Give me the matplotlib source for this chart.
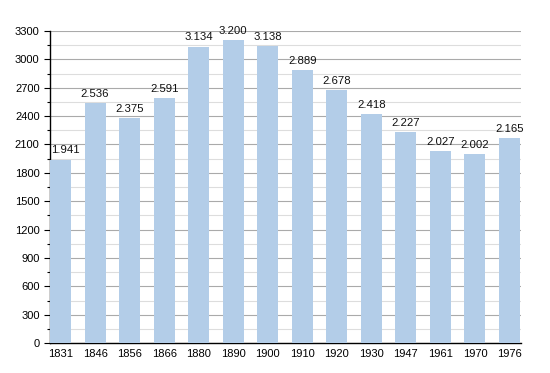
import matplotlib
matplotlib.use("Agg")
import matplotlib.pyplot as plt
from matplotlib.ticker import MultipleLocator

years = ["1831", "1846", "1856", "1866", "1880", "1890", "1900", "1910", "1920", "1930", "1947", "1961", "1970", "1976"]
population = [1941, 2536, 2375, 2591, 3134, 3200, 3138, 2889, 2678, 2418, 2227, 2027, 2002, 2165]
labels = ["1.941", "2.536", "2.375", "2.591", "3.134", "3.200", "3.138", "2.889", "2.678", "2.418", "2.227", "2.027", "2.002", "2.165"]

plt.rcParams['font.family'] = ['Liberation Sans', 'DejaVu Sans']
fig = plt.figure(figsize=(5.5, 3.73), dpi=100)
ax = fig.add_axes([0.091, 0.080, 0.856, 0.837])

x = list(range(len(years)))
ax.bar(x, population, width=0.61, color="#b3cde8", zorder=3)
xmin = -0.305
for xi, v, lab in zip(x, population, labels):
    if xi == 0:
        ax.text(xmin + 0.03, v + 45, lab, ha="left", va="bottom", fontsize=8.2, color="#111111", zorder=4)
    else:
        ax.text(xi, v + 45, lab, ha="center", va="bottom", fontsize=8.2, color="#111111", zorder=4)

ax.set_xlim(xmin, len(years) - 1 + 0.33)
ax.set_ylim(0, 3300)
ax.yaxis.set_major_locator(MultipleLocator(300))
ax.yaxis.set_minor_locator(MultipleLocator(150))
ax.grid(axis="y", which="major", color="#aaaaaa", linewidth=0.8, zorder=0)
ax.grid(axis="y", which="minor", color="#dddddd", linewidth=0.8, zorder=0)
ax.set_xticks(x)
ax.set_xticklabels(years)
ax.tick_params(axis="x", length=0, labelsize=8, pad=4)
ax.tick_params(axis="y", which="major", length=4, labelsize=8, width=0.8)
ax.tick_params(axis="y", which="minor", length=2, width=0.8)
for s in ["top", "right"]:
    ax.spines[s].set_visible(False)
ax.spines["left"].set_linewidth(1.0)
ax.spines["bottom"].set_linewidth(1.0)

fig.savefig("out.png", dpi=100)
